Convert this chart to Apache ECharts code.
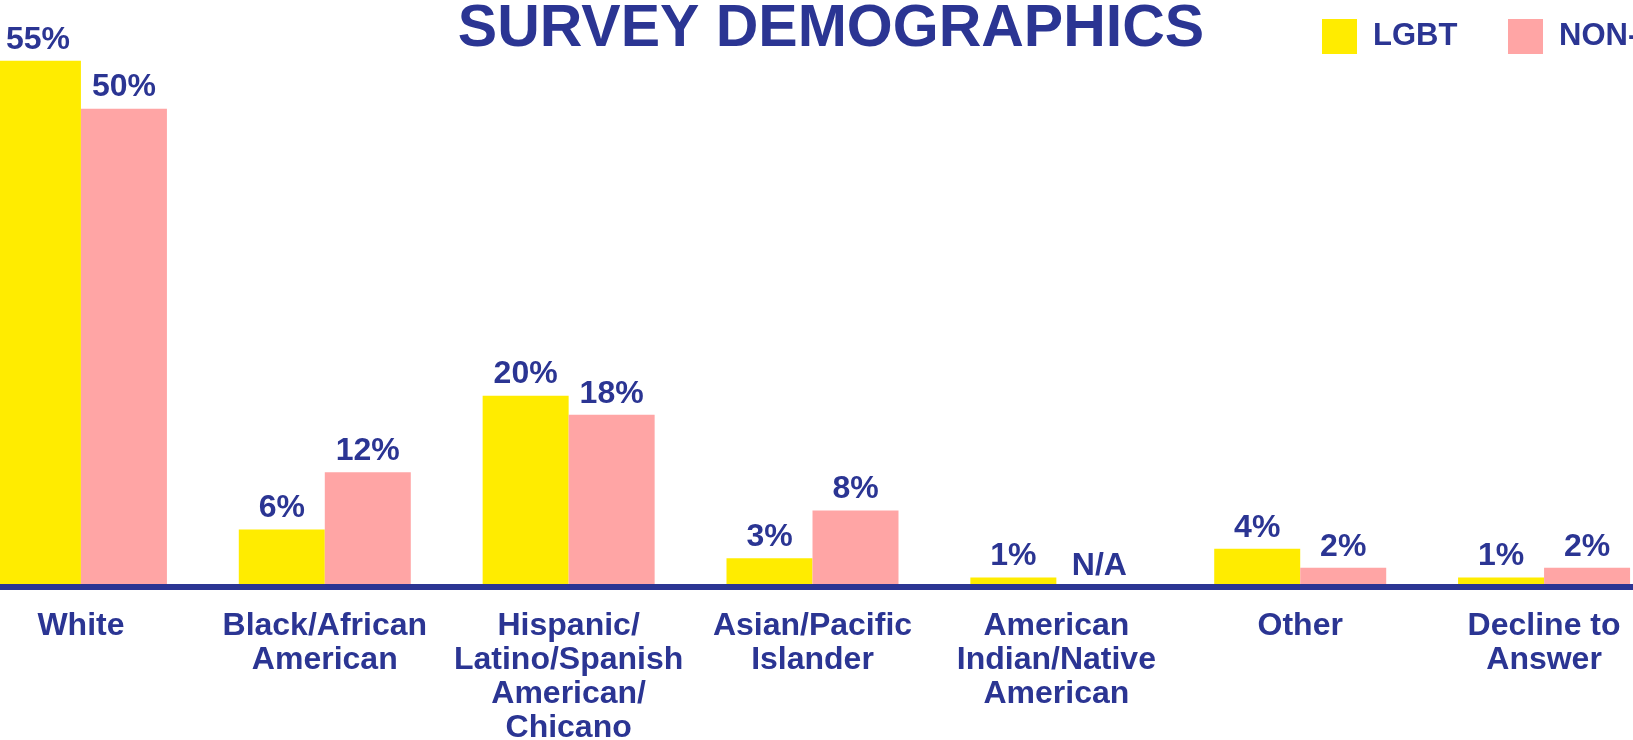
<!DOCTYPE html>
<html>
<head>
<meta charset="utf-8">
<script src="https://cdn.jsdelivr.net/npm/echarts@6/dist/echarts.min.js"></script>
<style>
html,body{margin:0;padding:0;background:#fff;}
#chart{width:1633px;height:740px;}
</style>
</head>
<body>
<div id="chart"></div>
<script>
var categories = ['White', 'Black/African\nAmerican', 'Hispanic/\nLatino/Spanish\nAmerican/\nChicano', 'Asian/Pacific\nIslander', 'American\nIndian/Native\nAmerican', 'Other', 'Decline to\nAnswer'];
var lgbtValues = [55, 6, 20, 3, 1, 4, 1];
var nonLgbtValues = [50, 12, 18, 8, null, 2, 2];
var seriesNames = ['LGBT', 'NON-LGBT'];
var titleText = 'SURVEY DEMOGRAPHICS';

var NAVY = '#2b3593';
var FONT = '"Liberation Sans", Arial, sans-serif';

function toData(arr) {
  return arr.map(function (v) {
    if (v === null) return { value: 0, label: { formatter: 'N/A' } };
    return v;
  });
}

var labelStyle = {
  show: true,
  position: 'top',
  distance: 5,
  color: NAVY,
  fontFamily: FONT,
  fontWeight: 'bold',
  fontSize: 32,
  formatter: '{c}%'
};

var legendText = { color: NAVY, fontFamily: FONT, fontWeight: 'bold', fontSize: 31, padding: [0, 0, 10, 11] };

var chart = echarts.init(document.getElementById('chart'));
chart.setOption({
  animation: false,
  backgroundColor: '#ffffff',
  title: {
    text: titleText,
    left: 826,
    textAlign: 'center',
    top: -5,
    textStyle: { color: NAVY, fontFamily: FONT, fontWeight: 'bold', fontSize: 59 }
  },
  legend: [
    {
      left: 1322, top: 19, padding: 0,
      itemWidth: 35, itemHeight: 35, icon: 'rect',
      textStyle: legendText,
      data: [seriesNames[0]]
    },
    {
      left: 1508, top: 19, padding: 0,
      itemWidth: 35, itemHeight: 35, icon: 'rect',
      textStyle: legendText,
      data: [seriesNames[1]]
    }
  ],
  grid: { left: -41, right: -33, top: 13, bottom: 153, containLabel: false, outerBoundsMode: 'none' },
  xAxis: {
    type: 'category',
    data: categories,
    z: 5,
    axisLine: { show: true, lineStyle: { color: NAVY, width: 6 } },
    axisTick: { show: false },
    axisLabel: {
      interval: 0,
      margin: 22,
      color: NAVY,
      fontFamily: FONT,
      fontWeight: 'bold',
      fontSize: 32,
      lineHeight: 34
    }
  },
  yAxis: {
    type: 'value',
    min: 0,
    max: 60,
    show: false,
    splitLine: { show: false }
  },
  series: [
    {
      name: seriesNames[0],
      type: 'bar',
      data: toData(lgbtValues),
      barWidth: 86,
      barGap: '0%',
      clip: false,
      itemStyle: { color: '#ffec00' },
      label: labelStyle
    },
    {
      name: seriesNames[1],
      type: 'bar',
      data: toData(nonLgbtValues),
      barWidth: 86,
      barGap: '0%',
      clip: false,
      itemStyle: { color: '#ffa5a5' },
      label: labelStyle
    }
  ]
});
</script>
</body>
</html>
